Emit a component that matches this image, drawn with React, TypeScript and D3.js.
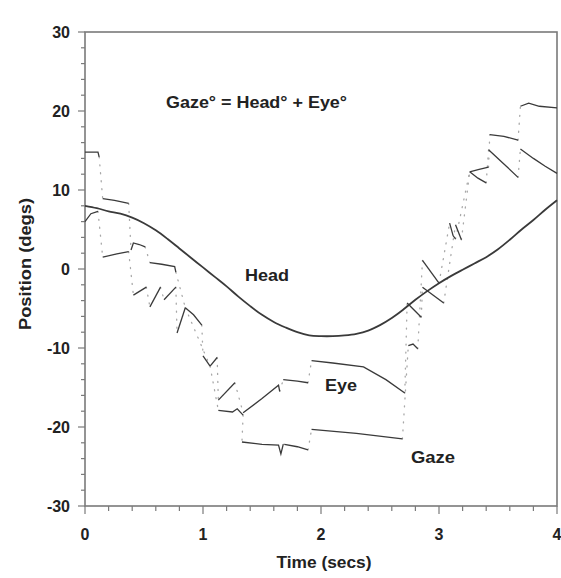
import React from 'react'
import * as d3 from 'd3'

// head position (t secs, degs)
const head: [number, number][] = [
  [0, 8.0], [0.1, 7.7], [0.2, 7.3], [0.3, 7.0], [0.4, 6.5], [0.5, 5.8], [0.6, 4.9],
  [0.7, 3.8], [0.8, 2.6], [0.9, 1.4], [1.0, 0.2], [1.1, -1.0], [1.2, -2.2], [1.3, -3.5],
  [1.4, -4.7], [1.5, -5.8], [1.6, -6.7], [1.7, -7.4], [1.8, -8.0], [1.9, -8.4], [2.0, -8.5],
  [2.1, -8.5], [2.2, -8.4], [2.3, -8.2], [2.4, -7.8], [2.5, -7.1], [2.6, -6.2], [2.7, -5.1],
  [2.8, -3.9], [2.9, -2.8], [3.0, -1.8], [3.1, -0.9], [3.2, -0.1], [3.3, 0.7], [3.4, 1.5],
  [3.5, 2.5], [3.6, 3.7], [3.7, 5.0], [3.8, 6.2], [3.9, 7.5], [4.0, 8.7],
]

// gaze fixations, saccades between them drawn dotted
const gaze: [number, number][][] = [
  [[0, 14.8], [0.11, 14.8], [0.12, 14.2]],
  [[0.15, 8.9], [0.25, 8.7], [0.37, 8.3]],
  [[0.39, 2.4], [0.41, 3.3], [0.46, 3.1], [0.51, 2.8]],
  [[0.55, 0.8], [0.65, 0.6], [0.76, 0.3], [0.77, -0.4]],
  [[0.85, -4.9], [0.92, -5.8], [0.99, -7.1]],
  [[1.0, -11.0], [1.06, -12.3]],
  [[1.13, -17.9], [1.25, -18.1], [1.29, -17.7], [1.34, -18.5]],
  [[1.33, -21.9], [1.5, -22.2], [1.64, -22.3], [1.66, -23.4], [1.68, -22.2]],
  [[1.69, -22.2], [1.8, -22.5], [1.89, -22.9]],
  [[1.92, -20.3], [2.3, -20.8], [2.69, -21.5]],
  [[2.74, -9.7], [2.78, -9.5], [2.82, -10.1]],
  [[2.86, 1.1], [3.0, -1.8]],
  [[3.09, 5.8], [3.12, 4.2], [3.14, 3.8]],
  [[3.26, 12.3], [3.34, 12.6], [3.42, 12.9]],
  [[3.43, 17.0], [3.55, 16.8], [3.67, 16.3]],
  [[3.69, 20.6], [3.76, 21.0], [3.85, 20.6], [4.0, 20.4]],
]

// eye-in-head position segments
const eye: [number, number][][] = [
  [[0, 6.0], [0.05, 7.0], [0.11, 7.3]],
  [[0.15, 1.5], [0.27, 1.9], [0.37, 2.2]],
  [[0.41, -3.3], [0.52, -2.3]],
  [[0.55, -4.8], [0.64, -2.3]],
  [[0.67, -3.9], [0.77, -2.3]],
  [[0.78, -8.1], [0.85, -4.9]],
  [[1.06, -12.3], [1.12, -11.2]],
  [[1.13, -16.6], [1.27, -14.4]],
  [[1.34, -18.2], [1.5, -16.4], [1.64, -14.7], [1.65, -15.5]],
  [[1.68, -14.0], [1.8, -14.2], [1.89, -14.4]],
  [[1.92, -11.6], [2.1, -11.9], [2.36, -12.4], [2.55, -14.0], [2.71, -15.7]],
  [[2.73, -4.3], [2.85, -6.1]],
  [[2.86, -2.3], [3.04, -4.3]],
  [[3.14, 5.6], [3.19, 3.7]],
  [[3.26, 12.3], [3.33, 11.5], [3.4, 10.9]],
  [[3.42, 15.1], [3.55, 13.3], [3.67, 11.6]],
  [[3.69, 15.2], [3.8, 14.0], [3.9, 13.0], [4.0, 12.1]],
]

const xTickLabels = [0, 1, 2, 3, 4]
const yTickLabels = [-30, -20, -10, 0, 10, 20, 30]

const W = 561
const H = 578
const x = d3.scaleLinear().domain([0, 4]).range([85, 557])
const y = d3.scaleLinear().domain([-30, 30]).range([506, 32])

const line = d3.line<[number, number]>().x(d => x(d[0])).y(d => y(d[1]))
const smooth = d3.line<[number, number]>().x(d => x(d[0])).y(d => y(d[1])).curve(d3.curveCatmullRom)

function saccades(segs: [number, number][][]) {
  const out: [number, number][][] = []
  for (let i = 1; i < segs.length; i++) {
    const a = segs[i - 1][segs[i - 1].length - 1]
    const b = segs[i][0]
    out.push([a, b])
  }
  return out
}

const font = 'Liberation Sans, Arial, sans-serif'

export default function App() {
  const axisColor = '#7a7a7a'
  const ink = '#3a3a3a'
  return (
    <svg width={W} height={H} style={{ position: 'absolute', left: 0, top: 0, background: '#fff' }}
      fontFamily={font} fontWeight="bold">
      {/* frame */}
      <rect x={x(0)} y={y(30)} width={x(4) - x(0)} height={y(-30) - y(30)}
        fill="none" stroke={axisColor} strokeWidth={1.6} />

      {/* y ticks */}
      {y.ticks(30).map(v => (
        <line key={'yt' + v} x1={x(0) - (v % 10 === 0 ? 7 : 4)} x2={x(0)} y1={y(v)} y2={y(v)}
          stroke={axisColor} strokeWidth={1.2} />
      ))}
      {yTickLabels.map(v => (
        <text key={'yl' + v} x={70} y={y(v)} dy="0.36em" textAnchor="end" fontSize={16} fill="#222">{v}</text>
      ))}

      {/* x ticks */}
      {x.ticks(20).map(v => (
        <line key={'xt' + v} x1={x(v)} x2={x(v)} y1={y(-30)} y2={y(-30) + (Math.abs(v - Math.round(v)) < 1e-6 ? 8 : 5)}
          stroke={axisColor} strokeWidth={1.2} />
      ))}
      {xTickLabels.map(v => (
        <text key={'xl' + v} x={x(v)} y={540} textAnchor="middle" fontSize={16} fill="#222">{v}</text>
      ))}

      <text x={324} y={568} textAnchor="middle" fontSize={16} fill="#222" textLength={95} lengthAdjust="spacingAndGlyphs">Time (secs)</text>
      <text transform={`translate(31,264) rotate(-90)`} textAnchor="middle" fontSize={16} fill="#222"
        textLength={132} lengthAdjust="spacingAndGlyphs">Position (degs)</text>

      {/* saccades */}
      {saccades(gaze).concat(saccades(eye)).map((s, i) => (
        <path key={'s' + i} d={line(s) || ''} fill="none" stroke="#a8a8a8" strokeWidth={1.3}
          strokeDasharray="1 7" strokeLinecap="round" />
      ))}

      {/* fixations */}
      {gaze.map((s, i) => (
        <path key={'g' + i} d={line(s) || ''} fill="none" stroke={ink} strokeWidth={1.3} />
      ))}
      {eye.map((s, i) => (
        <path key={'e' + i} d={line(s) || ''} fill="none" stroke={ink} strokeWidth={1.3} />
      ))}

      <path d={smooth(head) || ''} fill="none" stroke={ink} strokeWidth={1.8} />

      {/* annotations */}
      <text x={166} y={108} fontSize={16} fill="#222" textLength={181} lengthAdjust="spacingAndGlyphs">Gaze° = Head° + Eye°</text>
      <text x={245} y={281} fontSize={16} fill="#222" textLength={44} lengthAdjust="spacingAndGlyphs">Head</text>
      <text x={325} y={391} fontSize={16} fill="#222" textLength={32} lengthAdjust="spacingAndGlyphs">Eye</text>
      <text x={411} y={463} fontSize={16} fill="#222" textLength={44} lengthAdjust="spacingAndGlyphs">Gaze</text>
    </svg>
  )
}
